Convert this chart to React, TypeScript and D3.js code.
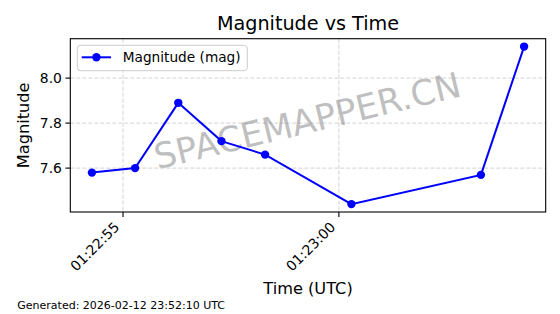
import React from "react";
import * as d3 from "d3";

const timeLabels = [
  "2026-02-12T01:22:54.28Z",
  "2026-02-12T01:22:55.28Z",
  "2026-02-12T01:22:56.28Z",
  "2026-02-12T01:22:57.28Z",
  "2026-02-12T01:22:58.29Z",
  "2026-02-12T01:23:00.29Z",
  "2026-02-12T01:23:03.29Z",
  "2026-02-12T01:23:04.29Z",
];
const magnitudes = [7.58, 7.6, 7.89, 7.72, 7.66, 7.44, 7.57, 8.14];
const xTickValues = ["2026-02-12T01:22:55Z", "2026-02-12T01:23:00Z"];
const yTickValues = [7.6, 7.8, 8.0];

const W = 560;
const H = 314;
const L = 70.3;
const R = 545.7;
const T = 38.7;
const B = 212;
const FONT = "DejaVu Sans, sans-serif";

export default function App() {
  const times = timeLabels.map((s) => new Date(s));
  const tExt = d3.extent(times) as [Date, Date];
  const tPad = (+tExt[1] - +tExt[0]) * 0.05;
  const x = d3
    .scaleUtc()
    .domain([new Date(+tExt[0] - tPad), new Date(+tExt[1] + tPad)])
    .range([L, R]);
  const yExt = d3.extent(magnitudes) as [number, number];
  const yPad = (yExt[1] - yExt[0]) * 0.05;
  const y = d3.scaleLinear().domain([yExt[0] - yPad, yExt[1] + yPad]).range([B, T]);
  const fmt = d3.utcFormat("%H:%M:%S");
  const pts = times.map((t, i) => [x(t), y(magnitudes[i])] as [number, number]);
  const line = d3.line()(pts) || "";
  const xt = xTickValues.map((s) => new Date(s));

  return (
    <svg
      width={W}
      height={H}
      style={{ position: "fixed", left: 0, top: 0, background: "#fff" }}
      fontFamily={FONT}
    >
      <rect x={0} y={0} width={W} height={H} fill="#fff" />
      <text x={308} y={30} textAnchor="middle" fontSize={19.2} fill="#000">
        Magnitude vs Time
      </text>
      {/* grid */}
      {xt.map((t, i) => (
        <line
          key={"gx" + i}
          x1={x(t)}
          x2={x(t)}
          y1={T}
          y2={B}
          stroke="#b0b0b0"
          strokeOpacity={0.7}
          strokeWidth={0.8}
          strokeDasharray="4,2"
        />
      ))}
      {yTickValues.map((v, i) => (
        <line
          key={"gy" + i}
          x1={L}
          x2={R}
          y1={y(v)}
          y2={y(v)}
          stroke="#b0b0b0"
          strokeOpacity={0.7}
          strokeWidth={0.8}
          strokeDasharray="4,2"
        />
      ))}
      {/* watermark */}
      <text
        x={307.5}
        y={121}
        textAnchor="middle"
        dominantBaseline="central"
        fontSize={35}
        fill="#808080"
        fillOpacity={0.5}
        transform="rotate(-13.5 307.5 121)"
      >
        SPACEMAPPER.CN
      </text>
      {/* data */}
      <path d={line} fill="none" stroke="#0000ff" strokeWidth={2} />
      {pts.map((p, i) => (
        <circle key={"p" + i} cx={p[0]} cy={p[1]} r={4.2} fill="#0000ff" />
      ))}
      {/* axes frame */}
      <rect x={L} y={T} width={R - L} height={B - T} fill="none" stroke="#000" strokeWidth={1.1} />
      {/* y ticks */}
      {yTickValues.map((v, i) => (
        <g key={"yt" + i}>
          <line x1={L - 4.9} x2={L} y1={y(v)} y2={y(v)} stroke="#000" strokeWidth={1.1} />
          <text x={L - 8.4} y={y(v)} dy="0.35em" textAnchor="end" fontSize={13.9} fill="#000">
            {d3.format(".1f")(v)}
          </text>
        </g>
      ))}
      {/* x ticks */}
      {xt.map((t, i) => (
        <g key={"xt" + i}>
          <line x1={x(t)} x2={x(t)} y1={B} y2={B + 4.9} stroke="#000" strokeWidth={1.1} />
          <text
            x={0}
            y={0}
            textAnchor="end"
            fontSize={13.9}
            fill="#000"
            transform={`translate(${x(t) - 2.7},${B + 16}) rotate(-45)`}
          >
            {fmt(t)}
          </text>
        </g>
      ))}
      {/* axis labels */}
      <text x={308} y={294} textAnchor="middle" fontSize={16.2} fill="#000">
        Time (UTC)
      </text>
      <text
        x={0}
        y={0}
        textAnchor="middle"
        fontSize={16.2}
        fill="#000"
        transform={`translate(29,${(T + B) / 2}) rotate(-90)`}
      >
        Magnitude
      </text>
      {/* legend */}
      <rect
        x={77.3}
        y={45.3}
        width={170}
        height={25.4}
        rx={3}
        fill="#fff"
        fillOpacity={0.8}
        stroke="#cccccc"
        strokeWidth={1}
      />
      <line x1={81.7} x2={111} y1={57.3} y2={57.3} stroke="#0000ff" strokeWidth={2} />
      <circle cx={96.4} cy={57.3} r={4.2} fill="#0000ff" />
      <text x={122.7} y={57.3} dy="0.35em" fontSize={13.7} fill="#000">
        Magnitude (mag)
      </text>
      <text x={17.3} y={309.3} fontSize={11} fill="#000">
        Generated: 2026-02-12 23:52:10 UTC
      </text>
    </svg>
  );
}
